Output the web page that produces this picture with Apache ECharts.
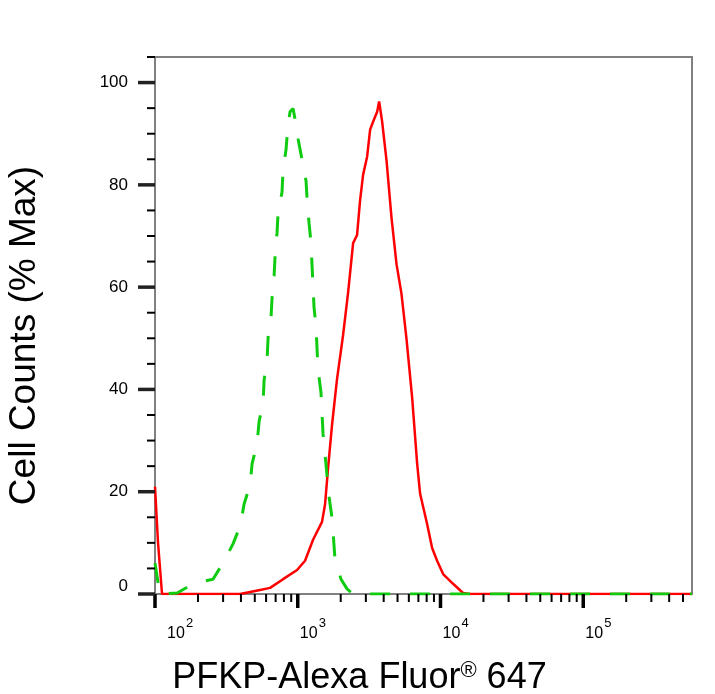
<!DOCTYPE html>
<html lang="en">
<head>
    <meta charset="UTF-8">
    <title>PFKP flow histogram</title>
    <script src="https://cdn.jsdelivr.net/npm/echarts@6/dist/echarts.min.js"></script>
</head>
<body style="margin:0;background:#fff;">
<div id="chart" style="width:715px;height:694px;"></div>
<script>
    // isotype control (green, dashed)
    var greenX = [100, 108, 143, 185, 255, 300, 352, 395, 421, 464, 479, 519, 536, 572, 581, 610, 620, 650, 661, 683,
        694, 716, 728, 776, 789, 828, 850, 883, 927, 957, 1005, 1072, 1143, 1165, 1200, 1239, 1259, 1280, 1300, 1343,
        1365, 1387, 1455, 1479, 1503, 1553, 1604, 1656, 1738, 1782, 1824, 2010, 2214, 2443, 578000];
    var greenY = [6, 0, 0.2, 2, 2.9, 6.1, 9.8, 13.3, 17.6, 21.4, 25.5, 29.4, 33.7, 37.5, 41.8, 45.9, 50.2, 54.1, 58, 62.2,
        66.3, 70.6, 74.5, 78.6, 82.9, 86.9, 91, 94.3, 94.9, 92.9, 89, 84.9, 80.8, 76.7, 72.5, 68.6, 64.3, 60.2, 56.1, 52.2,
        48, 43.9, 39.4, 35.5, 31.4, 27.3, 23.1, 19, 14.9, 10.8, 6.7, 2.9, 1, 0, 0];

    // PFKP stained sample (red, solid)
    var redX = [100, 105, 112, 395, 464, 545, 640, 789, 989, 1125, 1280, 1479, 1553, 1630, 1738, 1884, 2075, 2250,
        2443, 2604, 2734, 2871, 3062, 3214, 3376, 3600, 3717, 3900, 4190, 4540, 4920, 5330, 5780, 6330, 6862, 7200,
        8060, 8737, 9470, 10430, 12250, 14390, 16110, 578000];
    var redY = [21, 10, 0, 0, 0.4, 0.8, 1.2, 2.9, 4.7, 6.5, 10.6, 14.1, 17.5, 24.5, 33, 42, 50.5, 58.8,
        68.6, 70.2, 77, 82, 85.5, 90.8, 92.4, 94.3, 96.3, 92.4, 84.7, 73.5, 64.5, 58.7, 49.9, 38.4, 25.5, 19.6,
        13.7, 9, 6.5, 3.9, 2, 0.2, 0, 0];

    // axis ticks
    var xMin = 100, xMax = 578000;
    var xMajorTicks = [100, 1000, 10000, 100000];
    var xMinorTicks = [200, 300, 400, 500, 600, 700, 800, 900,
        2000, 3000, 4000, 5000, 6000, 7000, 8000, 9000,
        20000, 30000, 40000, 50000, 60000, 70000, 80000, 90000,
        200000, 300000, 400000, 500000];
    var yMajorTicks = [0, 20, 40, 60, 80, 100];
    var yMinorTicks = [5, 10, 15, 25, 30, 35, 45, 50, 55, 65, 70, 75, 85, 90, 95, 105];

    function pairs(xs, ys) {
        var out = [];
        for (var i = 0; i < xs.length; i++) out.push([xs[i], ys[i]]);
        return out;
    }

    var tickData = [];
    xMajorTicks.forEach(function (v) { tickData.push([v, 0, 0]); });
    xMinorTicks.forEach(function (v) { tickData.push([v, 0, 1]); });
    yMajorTicks.forEach(function (v) { tickData.push([xMin, v, 2]); });
    yMinorTicks.forEach(function (v) { tickData.push([xMin, v, 3]); });

    function renderTick(params, api) {
        var kind = api.value(2);
        var p = api.coord([api.value(0), api.value(1)]);
        var shape, w;
        if (kind === 0) { shape = {x1: p[0], y1: p[1], x2: p[0], y2: p[1] + 14}; w = 3.5; }
        else if (kind === 1) { shape = {x1: p[0], y1: p[1], x2: p[0], y2: p[1] + 8}; w = 2; }
        else if (kind === 2) { shape = {x1: p[0] - 17, y1: p[1], x2: p[0], y2: p[1]}; w = 3.5; }
        else { shape = {x1: p[0] - 8, y1: p[1], x2: p[0], y2: p[1]}; w = 2; }
        return {
            type: 'line',
            shape: shape,
            style: {stroke: kind === 2 ? '#222' : '#000', lineWidth: w}
        };
    }

    function decade(v) {
        return Math.round(Math.log10(v));
    }

    var ct = echarts.init(document.getElementById('chart'));
    var option = {
        animation: false,
        backgroundColor: '#fff',
        grid: {
            left: 155, right: 23, top: 57, bottom: 100,
            outerBoundsMode: 'none',
            containLabel: false,
            show: true, borderColor: '#808080', borderWidth: 2
        },
        xAxis: [
            {
                type: 'log',
                logBase: 10,
                position: 'bottom',
                min: xMin,
                max: xMax,
                name: '{n|PFKP-Alexa Fluor}{r|®}{n| 647}',
                nameLocation: 'middle',
                nameGap: 64,
                nameTextStyle: {
                    padding: [0, 128, 0, 0],
                    rich: {
                        n: {fontFamily: 'Liberation Sans', fontSize: 36, color: '#000', lineHeight: 40},
                        r: {fontFamily: 'Liberation Sans', fontSize: 22, color: '#000', lineHeight: 24,
                            padding: [0, 0, 14, 0]}
                    }
                },
                axisLine: {lineStyle: {color: '#808080', width: 2}},
                axisTick: {show: false},
                splitLine: {show: false},
                minorTick: {show: false},
                axisLabel: {
                    showMaxLabel: false,
                    align: 'left',
                    margin: 32,
                    fontFamily: 'Liberation Sans',
                    fontSize: 16,
                    lineHeight: 16,
                    color: '#000',
                    formatter: function (v) {
                        return decade(v) === 2 ? '{f|10}' : '{d|10}';
                    },
                    rich: {
                        d: {fontFamily: 'Liberation Sans', fontSize: 16, lineHeight: 16, color: '#000', padding: [0, 0, 0, 2]},
                        f: {fontFamily: 'Liberation Sans', fontSize: 16, lineHeight: 16, color: '#000', padding: [0, 0, 0, 12]}
                    }
                }
            },
            {
                // second layer on the same scale: carries only the exponents
                type: 'log',
                logBase: 10,
                position: 'bottom',
                min: xMin,
                max: xMax,
                axisLine: {show: false},
                axisTick: {show: false},
                splitLine: {show: false},
                minorTick: {show: false},
                axisLabel: {
                    showMaxLabel: false,
                    align: 'left',
                    margin: 23,
                    formatter: function (v) {
                        var e = decade(v);
                        return e === 2 ? '{f|' + e + '}' : '{d|' + e + '}';
                    },
                    rich: {
                        d: {fontFamily: 'Liberation Sans', fontSize: 13, lineHeight: 13, color: '#000', padding: [0, 0, 0, 21]},
                        f: {fontFamily: 'Liberation Sans', fontSize: 13, lineHeight: 13, color: '#000', padding: [0, 0, 0, 31]}
                    }
                }
            }
        ],
        yAxis: {
            type: 'value',
            min: 0,
            max: 105,
            interval: 20,
            name: 'Cell Counts (% Max)',
            nameLocation: 'middle',
            nameGap: 112,
            nameTextStyle: {
                fontFamily: 'Liberation Sans', fontSize: 37, color: '#000',
                padding: [0, 20, 0, 0]
            },
            axisLine: {show: true, lineStyle: {color: '#808080', width: 2}},
            axisTick: {show: false},
            splitLine: {show: false},
            axisLabel: {
                showMaxLabel: false,
                margin: 27,
                fontFamily: 'Liberation Sans',
                fontSize: 17,
                color: '#000',
                formatter: function (v) {
                    if (v === 0) return '{z|0}';
                    return v;
                },
                rich: {
                    z: {fontFamily: 'Liberation Sans', fontSize: 17, color: '#000', padding: [0, 0, 16, 0]}
                }
            }
        },
        series: [
            {
                name: 'ticks',
                type: 'custom',
                silent: true,
                clip: false,
                renderItem: renderTick,
                data: tickData,
                z: 5
            },
            {
                name: 'PFKP',
                type: 'line',
                data: pairs(redX, redY),
                showSymbol: false,
                symbol: 'none',
                lineStyle: {color: '#ff0000', width: 2.5},
                z: 3
            },
            {
                name: 'Isotype',
                type: 'line',
                data: pairs(greenX, greenY),
                showSymbol: false,
                symbol: 'none',
                lineStyle: {color: '#10cc10', width: 3, type: [20, 20]},
                z: 4
            }
        ]
    };
    ct.setOption(option);
</script>
</body>
</html>
